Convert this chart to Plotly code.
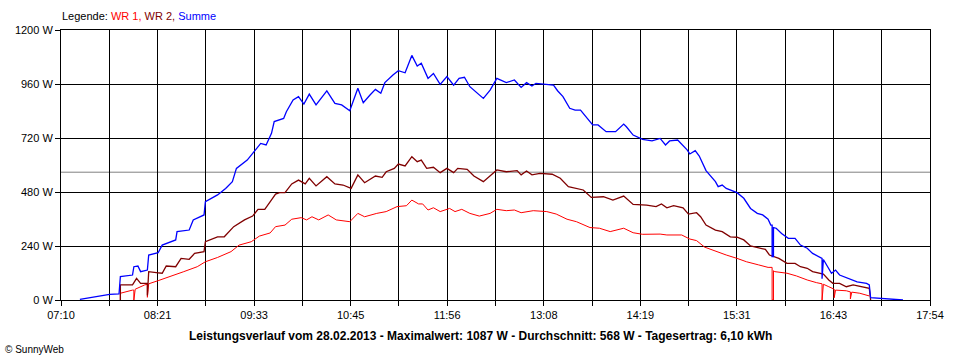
import plotly.graph_objects as go
from datetime import datetime

DAY = "2013-02-28"

# WR 1 (red)
wr1_t = ["07:54", "07:54", "08:03", "08:04", "08:04", "08:05", "08:12", "08:14", "08:14", "08:15",
         "08:22", "08:31", "08:41", "08:51", "08:57", "09:06", "09:16", "09:22", "09:31", "09:37",
         "09:45", "09:49", "09:56", "10:01", "10:08", "10:12", "10:16", "10:21", "10:28", "10:34",
         "10:44", "10:50", "10:55", "11:04", "11:11", "11:19", "11:26", "11:30", "11:35", "11:38",
         "11:42", "11:46", "11:51", "11:58", "12:02", "12:07", "12:13", "12:20", "12:28", "12:33",
         "12:40", "12:46", "12:51", "13:00", "13:10", "13:17", "13:25", "13:32", "13:42", "13:49",
         "13:57", "14:07", "14:14", "14:21", "14:34", "14:39", "14:50", "14:56", "15:01", "15:07",
         "15:13", "15:18", "15:23", "15:31", "15:38", "15:47", "15:54", "15:57", "15:57", "15:58",
         "15:58", "15:59", "16:08", "16:15", "16:23", "16:30", "16:34", "16:34", "16:35", "16:39",
         "16:43", "16:43", "16:44", "16:52", "16:55", "16:55", "16:56", "17:02", "17:09"]
wr1_w = [0, 30, 44, 44, 0, 48, 67, 70, 12, 72,
         86, 104, 126, 148, 170, 189, 215, 244, 259, 284,
         298, 326, 333, 359, 366, 356, 370, 356, 378, 356,
         348, 385, 370, 385, 393, 415, 419, 444, 427, 427,
         400, 410, 393, 407, 393, 403, 385, 373, 385, 403,
         397, 400, 388, 397, 393, 382, 359, 348, 322, 319,
         304, 319, 299, 292, 293, 289, 289, 271, 264, 235,
         222, 209, 200, 185, 170, 156, 145, 145, 0, 0,
         130, 126, 119, 107, 89, 77, 72, 0, 70, 59,
         48, 10, 44, 41, 36, 5, 35, 30, 18]

# WR 2 (dark red)
wr2_t = ["07:54", "07:54", "08:03", "08:06", "08:09", "08:14", "08:14", "08:15", "08:22", "08:25",
         "08:28", "08:35", "08:39", "08:45", "08:49", "08:56", "08:57", "09:06", "09:11", "09:18",
         "09:26", "09:32", "09:36", "09:41", "09:46", "09:49", "09:52", "09:56", "10:01", "10:06",
         "10:11", "10:14", "10:19", "10:27", "10:33", "10:39", "10:45", "10:50", "10:55", "11:03",
         "11:08", "11:11", "11:17", "11:20", "11:25", "11:30", "11:34", "11:37", "11:41", "11:46",
         "11:51", "11:56", "12:01", "12:04", "12:11", "12:16", "12:23", "12:28", "12:33", "12:40",
         "12:48", "12:51", "12:55", "12:59", "13:05", "13:14", "13:20", "13:26", "13:32", "13:37",
         "13:43", "13:52", "13:59", "14:07", "14:14", "14:24", "14:31", "14:35", "14:39", "14:44",
         "14:51", "14:55", "15:01", "15:04", "15:08", "15:12", "15:15", "15:20", "15:26", "15:31",
         "15:36", "15:41", "15:47", "15:52", "15:55", "16:02", "16:08", "16:14", "16:18", "16:23",
         "16:27", "16:35", "16:39", "16:42", "16:47", "16:52", "16:57", "17:05", "17:09", "17:10"]
wr2_w = [0, 67, 67, 96, 74, 74, 20, 126, 121, 119,
         151, 148, 185, 181, 207, 215, 259, 281, 281, 326,
         356, 373, 403, 403, 445, 471, 477, 477, 516, 533,
         516, 541, 507, 548, 516, 511, 496, 556, 521, 551,
         545, 570, 585, 604, 596, 637, 615, 622, 585, 590,
         566, 585, 566, 585, 581, 551, 526, 551, 578, 570,
         575, 556, 573, 556, 563, 559, 541, 504, 496, 489,
         456, 459, 444, 462, 425, 422, 415, 427, 410, 419,
         410, 382, 388, 370, 333, 320, 311, 304, 281, 279,
         267, 240, 230, 225, 200, 185, 163, 163, 148, 141,
         126, 115, 89, 74, 74, 59, 67, 59, 52, 0]

# Summe (blue)
sum_t = ["07:24", "07:32", "07:40", "07:46", "07:53", "07:54", "08:03", "08:04", "08:07", "08:09",
         "08:14", "08:15", "08:22", "08:25", "08:35", "08:36", "08:45", "08:48", "08:56", "08:57",
         "09:06", "09:12", "09:17", "09:20", "09:28", "09:33", "09:38", "09:42", "09:46", "09:48",
         "09:55", "09:57", "10:02", "10:06", "10:10", "10:14", "10:19", "10:27", "10:33", "10:38",
         "10:44", "10:50", "10:54", "10:59", "11:03", "11:07", "11:10", "11:16", "11:20", "11:25",
         "11:30", "11:34", "11:37", "11:42", "11:46", "11:51", "11:56", "12:01", "12:05", "12:09",
         "12:13", "12:23", "12:28", "12:33", "12:40", "12:46", "12:51", "12:55", "12:59", "13:02",
         "13:10", "13:15", "13:18", "13:22", "13:27", "13:31", "13:35", "13:40", "13:44", "13:48",
         "13:54", "14:01", "14:07", "14:09", "14:14", "14:21", "14:28", "14:34", "14:38", "14:41",
         "14:47", "14:54", "14:56", "15:00", "15:03", "15:08", "15:15", "15:17", "15:20", "15:23",
         "15:31", "15:36", "15:41", "15:46", "15:50", "15:54", "15:56", "15:57", "15:57", "15:58",
         "15:58", "16:00", "16:04", "16:09", "16:14", "16:18", "16:23", "16:27", "16:32", "16:34",
         "16:34", "16:35", "16:41", "16:44", "16:47", "16:53", "17:00", "17:07", "17:09", "17:10",
         "17:17", "17:26", "17:34"]
sum_w = [3, 10, 18, 25, 27, 104, 111, 148, 151, 126,
         133, 200, 210, 244, 267, 304, 311, 356, 378, 437,
         467, 496, 526, 585, 622, 659, 696, 689, 741, 793,
         807, 837, 889, 904, 871, 915, 867, 929, 874, 867,
         841, 941, 877, 911, 936, 919, 966, 1000, 1019, 1010,
         1087, 1040, 1052, 985, 1007, 958, 993, 955, 985, 990,
         948, 896, 933, 985, 966, 978, 945, 966, 951, 963,
         960, 955, 930, 904, 852, 844, 844, 807, 778, 778,
         748, 748, 782, 770, 733, 714, 707, 718, 689, 707,
         711, 667, 649, 664, 640, 575, 526, 504, 511, 496,
         477, 452, 407, 385, 378, 359, 333, 333, 193, 193,
         322, 319, 296, 274, 274, 244, 230, 207, 193, 185,
         95, 180, 119, 133, 111, 96, 81, 74, 67, 10,
         7, 4, 0]

y_ticks = [0, 240, 480, 720, 960, 1200]
y_labels = ["0 W", "240 W", "480 W", "720 W", "960 W", "1200 W"]
x_labels = ["07:10", "08:21", "09:33", "10:45", "11:56", "13:08", "14:19", "15:31", "16:43", "17:54"]
average_w = 568

t0 = datetime(2013, 2, 28, 7, 10)
t1 = datetime(2013, 2, 28, 17, 54)
step = (t1 - t0) / 18
tickvals = [t0 + step * k for k in range(19)]
ticktext = [x_labels[k // 2] if k % 2 == 0 else "" for k in range(19)]


def xs(ts):
    return [f"{DAY} {t}" for t in ts]


FONT = "Liberation Sans, Arial, sans-serif"

fig = go.Figure()
fig.add_trace(go.Scatter(x=xs(wr1_t), y=wr1_w, mode="lines", name="WR 1",
                         line=dict(color="#ff0000", width=1)))
fig.add_trace(go.Scatter(x=xs(wr2_t), y=wr2_w, mode="lines", name="WR 2",
                         line=dict(color="#800000", width=1.3)))
fig.add_trace(go.Scatter(x=xs(sum_t), y=sum_w, mode="lines", name="Summe",
                         line=dict(color="#0000ff", width=1.3)))

fig.add_shape(type="line", xref="paper", x0=0, x1=1, yref="y", y0=average_w, y1=average_w,
              line=dict(color="#808080", width=1), layer="below")

fig.update_layout(
    width=960, height=360,
    margin=dict(l=61, r=30, t=30, b=60),
    paper_bgcolor="white", plot_bgcolor="white",
    showlegend=False,
    font=dict(family=FONT, size=11, color="black"),
    xaxis=dict(
        type="date", range=[t0, t1],
        tickmode="array", tickvals=tickvals, ticktext=ticktext,
        showgrid=True, gridcolor="black", gridwidth=1,
        showline=True, linecolor="black", linewidth=1, mirror=True,
        ticks="outside", ticklen=5, tickcolor="black", tickwidth=1,
        tickfont=dict(family=FONT, size=11, color="black"),
        zeroline=False, fixedrange=True,
    ),
    yaxis=dict(
        range=[0, 1200],
        tickmode="array", tickvals=y_ticks, ticktext=y_labels,
        showgrid=True, gridcolor="black", gridwidth=1,
        showline=True, linecolor="black", linewidth=1, mirror=True,
        ticks="outside", ticklen=5, tickcolor="black", tickwidth=1,
        tickfont=dict(family=FONT, size=11, color="black"),
        zeroline=False, fixedrange=True,
    ),
    annotations=[
        dict(xref="paper", yref="paper", x=-0.001, y=1.052, xanchor="left", yanchor="middle",
             showarrow=False, font=dict(family=FONT, size=11, color="black"),
             text='Legende: <span style="color:#ff0000">WR 1, </span>'
                  '<span style="color:#800000">WR 2, </span>'
                  '<span style="color:#0000ff">Summe</span>'),
        dict(xref="paper", yref="paper", x=(480 - 61) / 869, y=(300 - 336) / 270,
             xanchor="center", yanchor="middle", showarrow=False,
             font=dict(family=FONT, size=12, color="black"),
             text="<b>Leistungsverlauf vom 28.02.2013 - Maximalwert: 1087 W - Durchschnitt: 568 W"
                  " - Tagesertrag: 6,10 kWh</b>"),
        dict(xref="paper", yref="paper", x=(3 - 61) / 869, y=(300 - 349) / 270,
             xanchor="left", yanchor="middle", showarrow=False,
             font=dict(family=FONT, size=10, color="black"),
             text="© SunnyWeb"),
    ],
)

fig.write_html("out.html",
               config={"displayModeBar": False, "staticPlot": True},
               post_script="document.body.style.margin='0';document.body.style.overflow='hidden';")
